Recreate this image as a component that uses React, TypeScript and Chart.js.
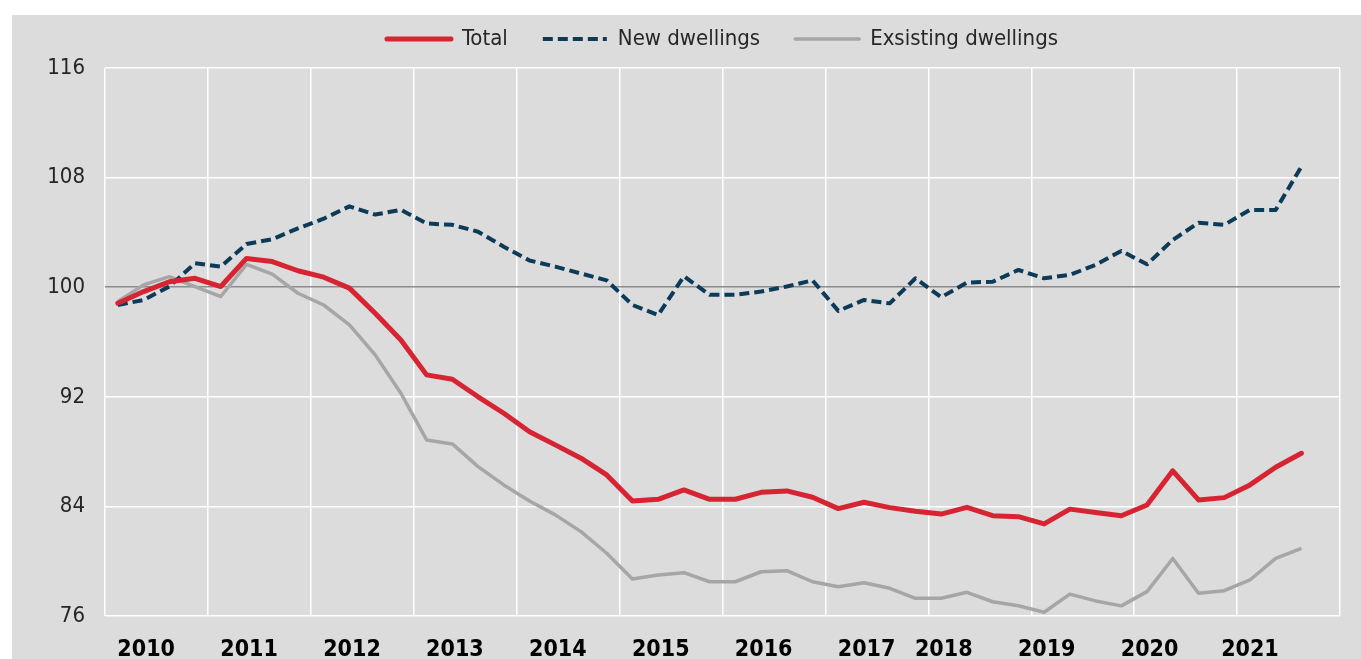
import React, { useEffect, useRef } from 'react';
import { Chart, registerables } from 'chart.js';

Chart.register(...registerables);

// Quarterly index values, 2010Q1 .. 2021Q3 (47 quarters)
const totalValues = [
  98.83, 99.68, 100.4, 100.65, 100.05, 102.1, 101.87, 101.2, 100.73, 99.93,
  98.1, 96.15, 93.6, 93.28, 92.0, 90.8, 89.45, 88.49, 87.52, 86.3,
  84.4, 84.52, 85.2, 84.52, 84.52, 85.03, 85.13, 84.67, 83.84, 84.3,
  83.91, 83.64, 83.44, 83.93, 83.32, 83.25, 82.72, 83.8, 83.55, 83.32,
  84.1, 86.6, 84.47, 84.64, 85.57, 86.86, 87.88,
];

const newDwellings = [
  98.7, 99.07, 100.05, 101.75, 101.5, 103.15, 103.5, 104.3, 105.0, 105.9,
  105.3, 105.65, 104.65, 104.55, 104.05, 102.95, 101.95, 101.5, 101.0, 100.5,
  98.7, 97.97, 100.8, 99.44, 99.44, 99.68, 100.05, 100.5, 98.27, 99.07,
  98.82, 100.65, 99.27, 100.34, 100.4, 101.26, 100.65, 100.9, 101.63, 102.65,
  101.67, 103.45, 104.7, 104.55, 105.64, 105.64, 108.8,
];

const existingDwellings = [
  98.95, 100.17, 100.77, 100.05, 99.32, 101.67, 100.95, 99.56, 98.7, 97.25,
  95.06, 92.26, 88.85, 88.56, 86.9, 85.57, 84.4, 83.38, 82.16, 80.58,
  78.7, 79.0, 79.16, 78.5, 78.5, 79.23, 79.31, 78.5, 78.14, 78.43,
  78.02, 77.29, 77.29, 77.73, 77.04, 76.75, 76.27, 77.6, 77.1, 76.74,
  77.78, 80.2, 77.66, 77.85, 78.63, 80.2, 80.94,
];

const seriesNames = ['Total', 'New dwellings', 'Exsisting dwellings'];

// Year labels and the quarter index each label sits at
const yearLabels = ['2010', '2011', '2012', '2013', '2014', '2015', '2016', '2017', '2018', '2019', '2020', '2021'];
const yearLabelQuarter = [1.1, 5.1, 9.1, 13.1, 17.1, 21.1, 25.1, 29.1, 32.1, 36.1, 40.1, 44.0];

// Y axis tick values
const yTickValues = [76, 84, 92, 100, 108, 116];

const N_SLOTS = 48;
const gridTicks = Array.from({ length: N_SLOTS / 4 + 1 }, (_, k) => -0.5 + 4 * k);

const FONT = "'DejaVu Sans Condensed', 'Liberation Sans', sans-serif";

const toPoints = (arr: number[]) => arr.map((y, i) => ({ x: i, y }));

export default function App() {
  const ref = useRef<HTMLCanvasElement>(null);

  useEffect(() => {
    document.body.style.overflow = 'hidden';
    const defaultLabels = (Chart.defaults as any).plugins.legend.labels.generateLabels;
    const chart = new Chart(ref.current as HTMLCanvasElement, {
      type: 'line',
      data: {
        datasets: [
          {
            label: seriesNames[0],
            data: toPoints(totalValues),
            borderColor: '#d62433',
            backgroundColor: '#d62433',
            borderWidth: 5,
            borderJoinStyle: 'round',
            borderCapStyle: 'round',
            pointRadius: 0,
            tension: 0,
          },
          {
            label: seriesNames[1],
            data: toPoints(newDwellings),
            borderColor: '#0c3b5a',
            backgroundColor: '#0c3b5a',
            borderWidth: 4,
            borderDash: [10, 5],
            borderJoinStyle: 'round',
            pointRadius: 0,
            tension: 0,
          },
          {
            label: seriesNames[2],
            data: toPoints(existingDwellings),
            borderColor: '#a6a6a6',
            backgroundColor: '#a6a6a6',
            borderWidth: 3.5,
            borderJoinStyle: 'round',
            pointRadius: 0,
            tension: 0,
          },
        ],
      },
      options: {
        animation: false,
        responsive: true,
        maintainAspectRatio: false,
        layout: { padding: { top: -22, right: 21, bottom: 0, left: 0 } },
        plugins: {
          legend: {
            position: 'top',
            fullSize: false,
            labels: {
              usePointStyle: true,
              pointStyle: 'line',
              pointStyleWidth: 64,
              padding: 35,
              color: '#262626',
              font: { family: FONT, size: 22 },
              generateLabels: (c: any) =>
                defaultLabels(c).map((item: any) => {
                  const ds = c.data.datasets[item.datasetIndex];
                  return {
                    ...item,
                    lineDash: ds.borderDash || [],
                    lineWidth: ds.borderWidth,
                    strokeStyle: ds.borderColor,
                    lineCap: ds.borderDash ? 'butt' : 'round',
                  };
                }),
            },
          },
          title: {
            display: true,
            text: '',
            fullSize: false,
            weight: 500,
            padding: 0,
            font: { size: 8, lineHeight: 1 },
          },
          tooltip: { enabled: false },
        },
        scales: {
          x: {
            type: 'linear',
            position: 'bottom',
            min: -0.5,
            max: N_SLOTS - 0.5,
            afterBuildTicks: (s: any) => {
              s.ticks = gridTicks.map((v) => ({ value: v }));
            },
            afterFit: (s: any) => {
              s.height = 0;
            },
            ticks: { display: false },
            grid: { color: '#ffffff', lineWidth: 1.5, drawTicks: false },
            border: { display: false },
          },
          x2: {
            type: 'linear',
            position: 'bottom',
            min: -0.5,
            max: N_SLOTS - 0.5,
            afterBuildTicks: (s: any) => {
              s.ticks = yearLabelQuarter.map((v) => ({ value: v }));
            },
            afterFit: (s: any) => {
              s.height = 43;
            },
            ticks: {
              autoSkip: false,
              maxRotation: 0,
              padding: 20,
              color: '#000000',
              font: { family: FONT, size: 23, weight: 'bold' },
              callback: (_v: any, i: number) => yearLabels[i],
            },
            grid: { display: false, drawTicks: false },
            border: { display: false },
          },
          y: {
            min: 76,
            max: 116,
            afterBuildTicks: (s: any) => {
              s.ticks = yTickValues.map((v) => ({ value: v }));
            },
            afterFit: (s: any) => {
              s.width = 93;
            },
            ticks: {
              padding: 20,
              color: '#262626',
              font: { family: FONT, size: 22 },
            },
            grid: {
              color: (c: any) => (c.tick && c.tick.value === 100 ? '#8c8c8c' : '#ffffff'),
              lineWidth: 1.5,
              drawTicks: false,
            },
            border: { display: false },
          },
        },
      } as any,
    });
    return () => chart.destroy();
  }, []);

  return (
    <div
      style={{
        position: 'absolute',
        left: 12,
        top: 15,
        width: 1349,
        height: 644,
        background: '#dcdcdc',
      }}
    >
      <canvas ref={ref} />
    </div>
  );
}
